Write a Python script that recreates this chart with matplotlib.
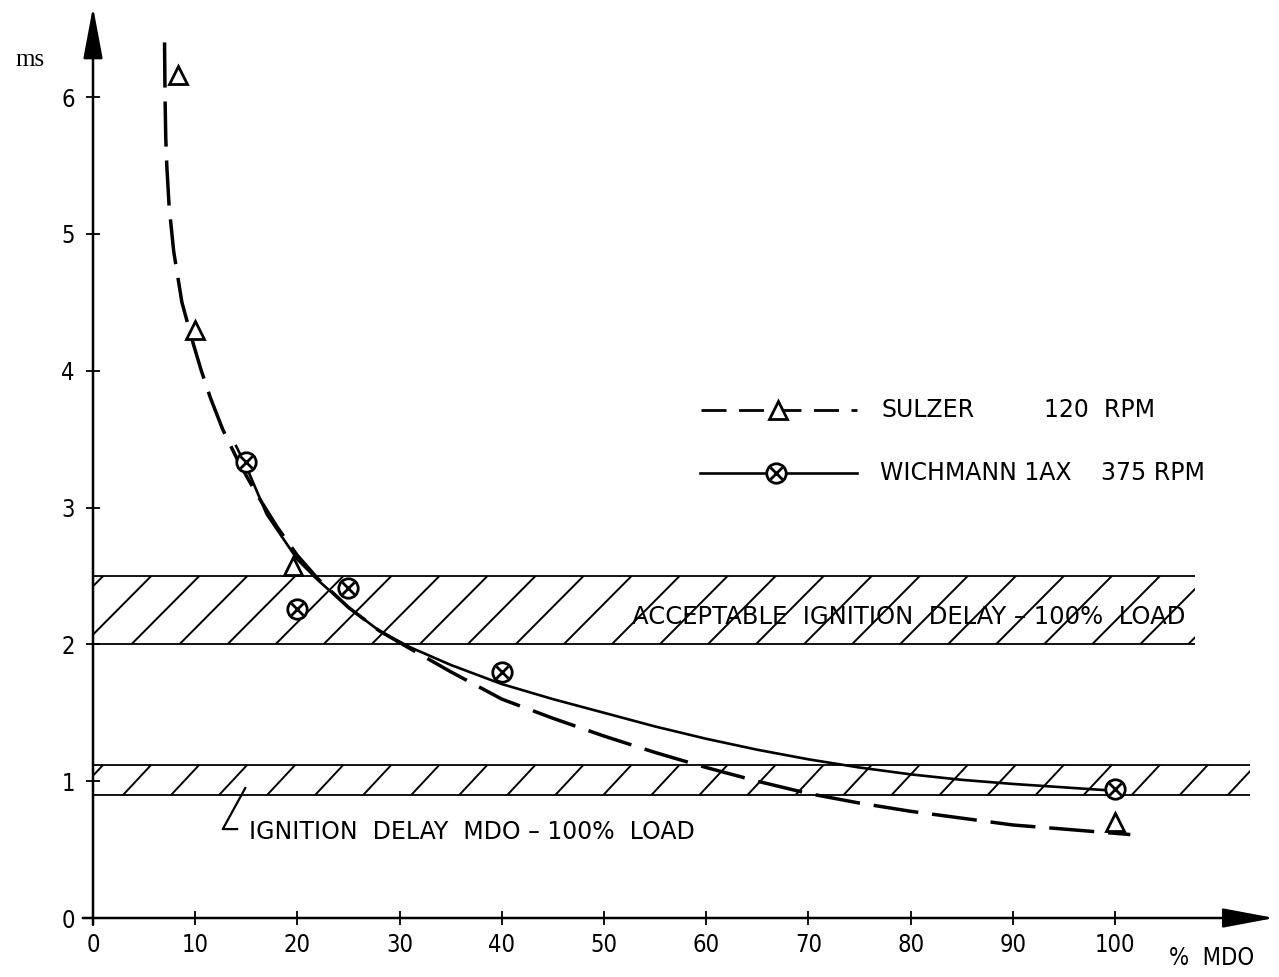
import numpy as np
import matplotlib
matplotlib.use('Agg')
import matplotlib.pyplot as plt
from matplotlib.patches import Rectangle

# Curva SULZER 120 RPM (discontinua) y sus puntos medidos
sulzer_x = [7.0, 7.05, 7.12, 7.22, 7.45, 7.9, 8.7, 9.8, 10.6, 11.5, 12.7, 14.2, 16, 18, 20,
            22, 25, 28, 31, 35, 40, 45, 50, 55, 60, 65, 70, 75, 80, 85, 90, 95, 101.5]
sulzer_y = [6.4, 6.0, 5.7, 5.5, 5.2, 4.87, 4.5, 4.2, 4.0, 3.8, 3.57, 3.34, 3.1, 2.86, 2.65,
            2.48, 2.27, 2.1, 1.97, 1.8, 1.6, 1.46, 1.33, 1.21, 1.1, 1.0, 0.91, 0.84, 0.78, 0.73,
            0.68, 0.65, 0.61]
sulzer_pts_x = [8.3, 10, 19.6, 100]
sulzer_pts_y = [6.16, 4.3, 2.57, 0.7]

# Curva WICHMANN 1AX 375 RPM (continua) y sus puntos medidos
wich_x = [14, 15, 17, 20, 22, 25, 28, 31, 35, 40, 45, 50, 55, 60, 65, 70, 75, 80, 85, 90, 95, 100]
wich_y = [3.45, 3.3, 2.95, 2.62, 2.47, 2.27, 2.1, 1.98, 1.85, 1.71, 1.6, 1.5, 1.4, 1.31, 1.23,
          1.16, 1.1, 1.05, 1.01, 0.98, 0.955, 0.93]
wich_pts_x = [15, 20, 25, 40, 100]
wich_pts_y = [3.33, 2.26, 2.41, 1.8, 0.94]

# Bandas rayadas: (x inicio, x fin, y abajo, y arriba)
banda_aceptable = (0, 107.8, 2.0, 2.5)
banda_mdo = (0, 113.2, 0.9, 1.12)

xticks = [0, 10, 20, 30, 40, 50, 60, 70, 80, 90, 100]
yticks = [0, 1, 2, 3, 4, 5, 6]

plt.rcParams['font.family'] = ['DejaVu Sans']

fig = plt.figure(figsize=(12.79, 9.77), dpi=100)
ax = fig.add_axes([93 / 1279, 59 / 977, 1185.5 / 1279, 916.6 / 977])
ax.set_xlim(0, 116)
ax.set_ylim(0, 6.7)
for s in ax.spines.values():
    s.set_visible(False)


def rayar(ax, banda, paso, avance):
    x0, x1, y0, y1 = banda
    rect = Rectangle((x0, y0), x1 - x0, y1 - y0, fill=False, lw=0)
    ax.add_patch(rect)
    ax.hlines([y0, y1], x0, x1, color='black', lw=1.3)
    for xs in np.arange(x0 + 1.0 - avance, x1, paso):
        ln, = ax.plot([xs, xs + avance], [y0, y1], color='black', lw=1.4)
        ln.set_clip_path(rect)


rayar(ax, banda_aceptable, 4.7, 6.65)
rayar(ax, banda_mdo, 4.7, 2.75)

# curvas
ax.plot(sulzer_x, sulzer_y, color='black', lw=2.5, dashes=(13, 4))
ax.plot(wich_x, wich_y, color='black', lw=1.9)
ax.plot(sulzer_pts_x, sulzer_pts_y, ls='none', marker='^', ms=13, mfc='white',
        mec='black', mew=2.0, clip_on=False)
ax.plot(wich_pts_x, wich_pts_y, ls='none', marker='o', ms=14, mfc='white',
        mec='black', mew=2.0, clip_on=False)
ax.plot(wich_pts_x, wich_pts_y, ls='none', marker='x', ms=8, mec='black', mew=2.0,
        clip_on=False)

# leyenda manual
ax.plot([59.5, 74.8], [3.71, 3.71], color='black', lw=2.0, dashes=(9, 4.5))
ax.plot([67.0], [3.71], ls='none', marker='^', ms=13, mfc='white', mec='black', mew=2.0)
ax.plot([59.4, 74.8], [3.25, 3.25], color='black', lw=1.9)
ax.plot([66.8], [3.25], ls='none', marker='o', ms=14, mfc='white', mec='black', mew=2.0)
ax.plot([66.8], [3.25], ls='none', marker='x', ms=8, mec='black', mew=2.0)
ax.text(77.2, 3.71, 'SULZER', fontsize=17, va='center', ha='left')
ax.text(93.1, 3.71, '120  RPM', fontsize=17, va='center', ha='left')
ax.text(77.0, 3.25, 'WICHMANN 1AX', fontsize=17, va='center', ha='left')
ax.text(98.6, 3.25, '375 RPM', fontsize=17, va='center', ha='left')

# textos de las bandas
ax.text(52.7, 2.2, 'ACCEPTABLE  IGNITION  DELAY – 100%  LOAD', fontsize=17.5,
        va='center', ha='left')
ax.text(15.3, 0.63, 'IGNITION  DELAY  MDO – 100%  LOAD', fontsize=17,
        va='center', ha='left')
ax.plot([14.1, 12.7, 14.9], [0.65, 0.65, 0.95], color='black', lw=1.6)

# ejes con flechas
ax.annotate('', xy=(0, 6.66), xytext=(0, -0.05), annotation_clip=False,
            arrowprops=dict(arrowstyle='-|>,head_length=3.2,head_width=0.6',
                            color='black', lw=1.8, shrinkA=0, shrinkB=0))
ax.annotate('', xy=(115.6, 0), xytext=(-1, 0), annotation_clip=False,
            arrowprops=dict(arrowstyle='-|>,head_length=3.2,head_width=0.6',
                            color='black', lw=1.8, shrinkA=0, shrinkB=0))

ax.set_xticks(xticks)
ax.set_yticks(yticks)
ax.tick_params(direction='inout', length=10, width=1.3, labelsize=17)
ax.tick_params(axis='x', pad=6)
ax.tick_params(axis='y', pad=8)
for lbl in ax.get_xticklabels() + ax.get_yticklabels():
    lbl.set_fontstretch('condensed')

ax.text(-6.2, 6.27, 'ms', fontsize=18, family=['Liberation Serif', 'DejaVu Serif'],
        va='center', ha='center')
ax.text(109.5, -0.29, '%  MDO', fontsize=17, fontstretch='condensed',
        va='center', ha='center', clip_on=False)

fig.savefig('out.png', dpi=100)
